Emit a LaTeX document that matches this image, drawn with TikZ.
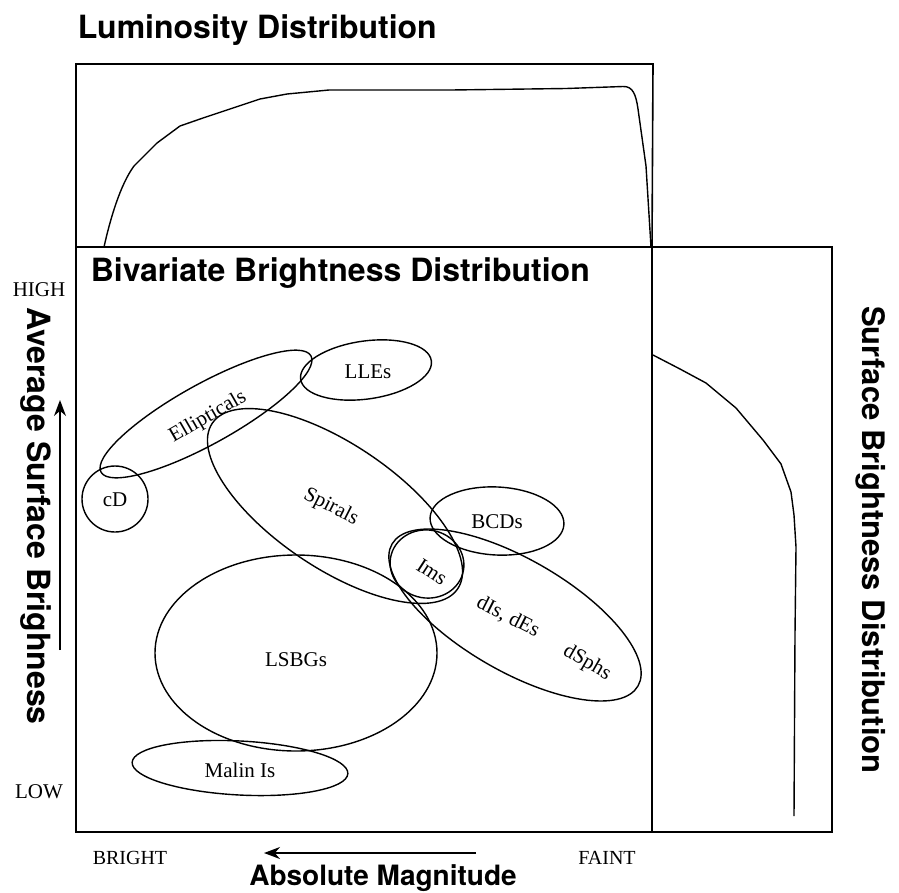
\documentclass[tikz,border=0pt]{standalone}
\usepackage{fontspec}
\setmainfont{Liberation Serif}
\newfontfamily\hvfont{TeX Gyre Heros}
\usepackage{tikz}
\usetikzlibrary{arrows.meta}

\tikzset{
  title/.style={font=\hvfont\bfseries\fontsize{32}{34}\selectfont, inner sep=0pt},
  region/.style={font=\fontsize{21}{23}\selectfont, inner sep=0pt},
  scale label/.style={font=\fontsize{20}{22}\selectfont, inner sep=0pt},
}

\begin{document}
\begin{tikzpicture}[x=1pt, y=-1pt, line width=1.6pt]
\useasboundingbox (0,0) rectangle (899,892);

% frames
\draw (76,247) rectangle (652,832);
\draw (76,247) -- (76,64) -- (653,64) -- (652,247);
\draw (652,247) -- (832,247) -- (832,832) -- (652,832);

% luminosity distribution
\draw[line width=1.4pt] (104,247) .. controls (110,220) and (120,185) .. (134,166)
  -- (157,143) -- (180,126) -- (203,118) -- (230,109) -- (260,99) -- (287,94)
  -- (329,90) -- (451,90) -- (566,88.5) -- (623,86.5)
  .. controls (633,86) and (636,95) .. (638,109) -- (646,166) -- (651,247);

% surface brightness distribution
\draw[line width=1.4pt] (653,355) -- (680,369) -- (706,383) -- (736,408)
  -- (763,440) -- (781,464) -- (791,492) -- (794,515) -- (796,547)
  -- (795,634) -- (794,816);

% regions
\foreach \cx/\cy/\rx/\ry/\a in {115/499/33/33/0, 206/414/120/30/29,
    366/370/66/29/8, 335/506/148/62/-34, 497/521/67/34/-3,
    427/564/37/34/-10, 515/615/142/56/-30, 296/653/141/98/0,
    240/768/108/27/-3}
  \draw[line width=1.4pt, rotate around={\a:(\cx,\cy)}] (\cx,\cy) ellipse [x radius=\rx, y radius=\ry];

\foreach \n/\x/\y/\r/\t in {cd/115/500/0/cD, ell/208/417/30/Ellipticals,
    lle/368/372/0/LLEs, spi/331/507/-27/Spirals, bcd/497/522/0/BCDs,
    ims/432/572/-33/Ims, dis/508/617/-27/{dIs, dEs}, dsph/587/663/-30/dSphs,
    lsbg/296/660/0/LSBGs, malin/240/770/0/Malin Is}
  \node[region, rotate=\r] (\n) at (\x,\y) {\t};

% titles
\node[title, anchor=west] (lumtitle) at (77,30) {Luminosity Distribution};
\node[title, anchor=west] (bbdtitle) at (90,273) {Bivariate Brightness Distribution};
\node[title, font=\hvfont\bfseries\fontsize{31}{33}\selectfont, rotate=-90] (sbtitle) at (871,540) {Surface Brightness Distribution};
\node[title, rotate=-90] (avtitle) at (36,516) {Average Surface Brighness};
\node[title, font=\hvfont\bfseries\fontsize{28}{30}\selectfont] (mag) at (383,878) {Absolute Magnitude};

% axis ends
\node[scale label, font=\fontsize{21}{23}\selectfont] (high) at (39,290) {HIGH};
\node[scale label, font=\fontsize{21}{23}\selectfont] (low) at (39,792) {LOW};
\node[scale label] (bright) at (130,858) {BRIGHT};
\node[scale label] (faint) at (607,858) {FAINT};

\coordinate (magtail) at (476,853);
\coordinate (maghead) at (264,853);
\coordinate (avtail) at (60,650);
\coordinate (avhead) at (60,400);
\draw[-{Stealth[length=16pt,width=12pt]}] (magtail) -- (maghead);
\draw[-{Stealth[length=16pt,width=12pt]}] (avtail) -- (avhead);
\end{tikzpicture}
\end{document}
